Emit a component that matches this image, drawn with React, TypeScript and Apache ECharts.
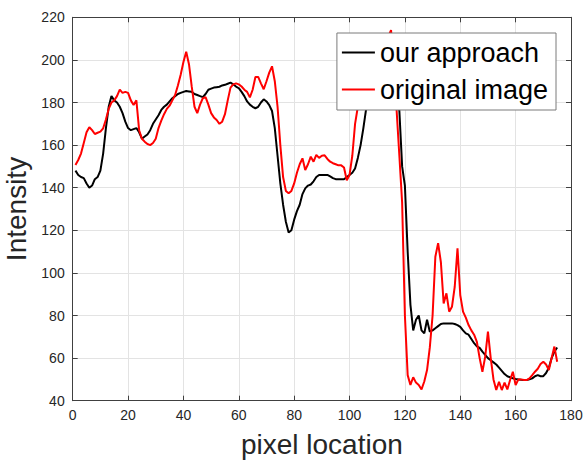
import React, { useEffect, useRef } from "react";
import * as echarts from "echarts";

// Intensity values at pixel locations 1..175
const ourApproach: number[] = [
  148, 146, 145, 144.5, 142, 140, 141, 144, 145, 148,
  156, 168, 178, 183, 181, 180, 178, 175, 171, 168,
  167, 167.5, 168, 166, 163, 164, 165, 167, 170, 172,
  174, 176.5, 178, 179, 180.5, 182, 183, 184, 184.5, 185,
  185.4, 185.2, 185, 184, 183.5, 183, 182.5, 184, 186, 186.5,
  187, 187.2, 187.4, 188, 188.3, 188.8, 189.3, 188.5, 187.5, 186.7,
  185, 183, 180.5, 179, 178, 177.3, 178, 180, 181.5, 180.5,
  178.8, 176, 168, 155, 142, 132, 124, 119, 120, 125,
  129, 132, 137, 139.7, 141, 141.5, 143, 145, 146, 146,
  146, 146, 145.3, 144.5, 144, 144, 144, 144, 145, 146,
  147, 149, 154, 160, 168, 177, 186, 192, 197, 201,
  204, 206, 207, 206, 202, 194, 184, 176, 150, 141,
  110, 85, 73, 78, 80, 73, 71.6, 78, 72.4, 73,
  74, 75, 76, 76.3, 76.3, 76.3, 76.3, 76, 75.5, 74.7,
  73, 71.6, 71, 69, 67, 65.5, 64.8, 63, 61.5, 60,
  59, 58, 57, 55.5, 54, 52.5, 51.5, 51, 50.5, 50.2,
  50, 49.8, 49.7, 49.7, 50, 50.5, 51.5, 52, 51.5, 51.5,
  53, 55.5, 60, 63, 65,
];

const originalImage: number[] = [
  150.7, 153, 156, 161, 166, 168.4, 167, 165.2, 165.8, 166.3,
  167.9, 172, 177, 180, 181, 183, 186, 184.5, 185, 184.5,
  181, 178.8, 181, 167, 163, 161.6, 160.5, 160, 161, 163,
  168, 171.5, 174.5, 177, 178.5, 181, 183.5, 188, 193, 199,
  203.8, 198, 187.4, 178, 175, 179, 182, 182.5, 179, 175,
  173, 171.8, 170, 171, 174.5, 181, 187, 188.5, 189, 188.5,
  187.5, 186, 185, 182.4, 186, 192, 192, 189, 186.2, 190,
  194, 197, 190, 178, 160, 145, 138.5, 137.4, 138.5, 142,
  147, 151, 153.8, 148.3, 151, 154.6, 152.2, 155.4, 154, 155,
  155.2, 153.5, 152.2, 151.5, 151, 150.5, 150.5, 149.5, 143.5, 146,
  155, 170, 178, 184, 190, 195, 198, 200, 201, 203,
  205, 207, 209, 211, 214, 196, 176.5, 155, 133, 80,
  52, 47.4, 51, 48.5, 47.4, 45.3, 49, 54.4, 65, 80,
  107.6, 114, 105, 85.7, 90.4, 81.8, 84.1, 93.5, 111.5, 89.6,
  81.8, 79, 75.5, 73, 71, 67.6, 60, 53.6, 60.6, 72.4,
  60, 50, 45, 48.9, 45, 48.5, 45.3, 49.7, 53.6, 47.4,
  50, 50, 49.7, 49.7, 50.5, 52, 53.6, 55, 57.2, 58.3,
  57, 54.4, 60, 65.4, 58.3,
];

const xTicks = { min: 0, max: 180, interval: 20 };
const yTicks = { min: 40, max: 220, interval: 20 };

export default function App() {
  const ref = useRef<HTMLDivElement>(null);
  useEffect(() => {
    if (!ref.current) return;
    const chart = echarts.init(ref.current, undefined, { renderer: "svg" });
    const toPairs = (arr: number[]) => arr.map((v, i) => [i + 1, v]);
    const axisColor = "#404040";
    const gridColor = "#e3e3e3";
    const font = "Liberation Sans, Arial, Helvetica, sans-serif";
    chart.setOption({
      animation: false,
      backgroundColor: "#ffffff",
      grid: {
        left: 72.7,
        right: 14,
        top: 17.3,
        bottom: 61.3,
        containLabel: false,
        outerBoundsMode: "none",
      },
      legend: {
        orient: "vertical",
        right: 29,
        top: 33,
        padding: [5, 8, 6, 5],
        itemGap: 8,
        itemWidth: 33,
        itemHeight: 2,
        icon: "rect",
        backgroundColor: "#ffffff",
        borderColor: "#7a7a7a",
        borderWidth: 1,
        borderRadius: 0,
        textStyle: { fontSize: 27, lineHeight: 29, color: "#000", fontFamily: font },
        data: ["our approach", "original image"],
      },
      xAxis: [
        {
          type: "value",
          min: xTicks.min,
          max: xTicks.max,
          interval: xTicks.interval,
          name: "pixel location",
          nameLocation: "middle",
          nameGap: 30,
          nameTextStyle: { fontSize: 28, color: "#262626", fontFamily: font },
          axisLine: { show: true, onZero: false, lineStyle: { color: axisColor, width: 1 } },
          axisTick: { show: true, inside: true, length: 5, lineStyle: { color: axisColor } },
          axisLabel: { fontSize: 14, color: "#262626", margin: 7, fontFamily: font },
          splitLine: { show: true, lineStyle: { color: gridColor, width: 1 } },
        },
        {
          type: "value",
          position: "top",
          min: xTicks.min,
          max: xTicks.max,
          interval: xTicks.interval,
          axisLine: { show: true, onZero: false, lineStyle: { color: axisColor, width: 1 } },
          axisTick: { show: true, inside: true, length: 5, lineStyle: { color: axisColor } },
          axisLabel: { show: false },
          splitLine: { show: false },
        },
      ],
      yAxis: [
        {
          type: "value",
          min: yTicks.min,
          max: yTicks.max,
          interval: yTicks.interval,
          name: "Intensity",
          nameLocation: "middle",
          nameGap: 34,
          nameTextStyle: { fontSize: 28, color: "#262626", fontFamily: font },
          axisLine: { show: true, onZero: false, lineStyle: { color: axisColor, width: 1 } },
          axisTick: { show: true, inside: true, length: 5, lineStyle: { color: axisColor } },
          axisLabel: { fontSize: 14, color: "#262626", margin: 8, fontFamily: font },
          splitLine: { show: true, lineStyle: { color: gridColor, width: 1 } },
        },
        {
          type: "value",
          position: "right",
          min: yTicks.min,
          max: yTicks.max,
          interval: yTicks.interval,
          axisLine: { show: true, onZero: false, lineStyle: { color: axisColor, width: 1 } },
          axisTick: { show: true, inside: true, length: 5, lineStyle: { color: axisColor } },
          axisLabel: { show: false },
          splitLine: { show: false },
        },
      ],
      series: [
        {
          name: "our approach",
          type: "line",
          data: toPairs(ourApproach),
          symbol: "none",
          lineStyle: { color: "#000000", width: 2 },
          itemStyle: { color: "#000000" },
          z: 2,
        },
        {
          name: "original image",
          type: "line",
          data: toPairs(originalImage),
          symbol: "none",
          lineStyle: { color: "#ff0000", width: 2 },
          itemStyle: { color: "#ff0000" },
          z: 3,
        },
      ],
    });
    return () => chart.dispose();
  }, []);
  return <div ref={ref} style={{ width: 585, height: 462, position: "absolute", left: 0, top: 0 }} />;
}
